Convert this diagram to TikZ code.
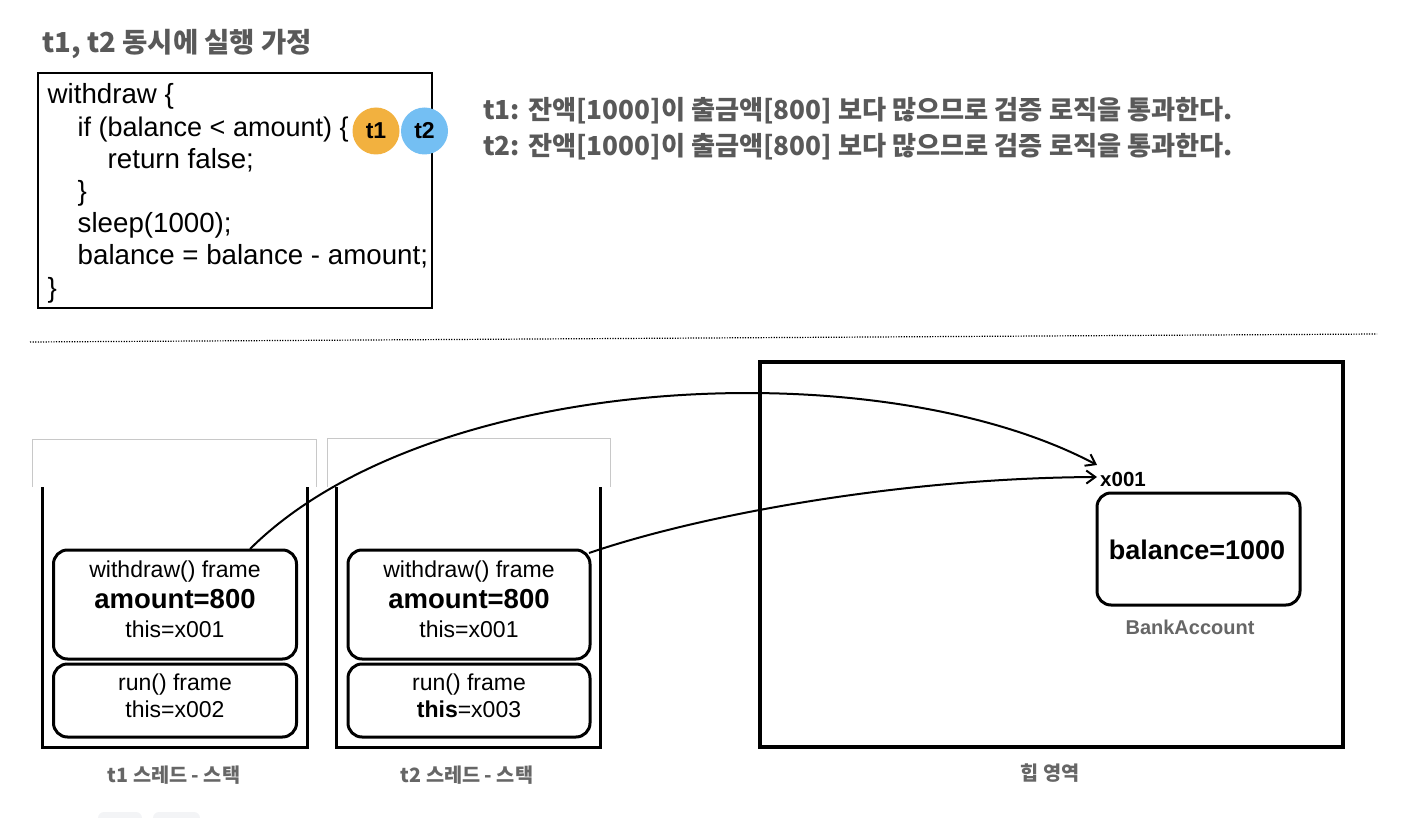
\documentclass[tikz,border=0pt]{standalone}
\usepackage{fontspec}
\setmainfont{Liberation Sans}
\newfontfamily\kr{Noto Sans CJK KR}
\usetikzlibrary{arrows.meta}
\definecolor{txtgray}{HTML}{595959}
\definecolor{lblgray}{HTML}{666666}
\definecolor{stackgray}{HTML}{C8C8C8}
\definecolor{orangec}{HTML}{F2B13F}
\definecolor{bluec}{HTML}{74BFF3}
\definecolor{faint}{HTML}{F3F4F6}
\begin{document}
\begin{tikzpicture}[x=1pt,y=-1pt,
  codetxt/.style={anchor=base west, inner sep=0, font=\fontsize{27.7}{32}\selectfont},
  frametxt/.style={anchor=base, inner sep=0, font=\fontsize{23}{26}\selectfont},
  bigtxt/.style={anchor=base, inner sep=0, font=\bfseries\fontsize{27.5}{32}\selectfont},
  krlabel/.style={anchor=base, inner sep=0, text=lblgray, font=\kr\bfseries\fontsize{19.7}{24}\selectfont},
  krtext/.style={anchor=base west, inner sep=0, text=txtgray, font=\kr\bfseries\fontsize{26.2}{30}\selectfont},
  framebox/.style={draw, line width=3, rounded corners=14, minimum width=243, inner sep=0},
  thread/.style={circle, minimum size=47, inner sep=0, font=\bfseries\fontsize{23}{26}\selectfont},
  wall/.style={line width=3, line join=miter},
  topbox/.style={draw=stackgray, line width=1},
  ptr/.style={line width=2, -{Straight Barb[length=9pt,width=13pt,line width=2pt]}}
]
\useasboundingbox (0,0) rectangle (1410,818);

% title
\node[anchor=base west, inner sep=0, text=txtgray, font=\kr\bfseries\fontsize{27.5}{32}\selectfont] (title) at (42,53) {t1, t2 동시에 실행 가정};

% code box
\node[draw, line width=1.5, minimum width=394, minimum height=235, inner sep=0] (code) at (235,190.5) {};
\node[codetxt] (l1) at (47.5,104) {withdraw \{};
\node[codetxt, font=\fontsize{27}{32}\selectfont] (l2) at (77.5,136.2) {if (balance < amount) \{};
\node[codetxt] (l3) at (107.5,168.4) {return false;};
\node[codetxt] (l4) at (77.5,200.6) {\}};
\node[codetxt] (l5) at (77.5,232.8) {sleep(1000);};
\node[codetxt] (l6) at (77.5,265) {balance = balance - amount;};
\node[codetxt] (l7) at (47.5,297.2) {\}};

\node[thread, fill=orangec] (c1) at (376,131) {t1};
\node[thread, fill=bluec] (c2) at (424.5,131) {t2};

% right texts
\node[krtext] (r1) at (483,120) {t1: 잔액[1000]이 출금액[800] 보다 많으므로 검증 로직을 통과한다.};
\node[krtext] (r2) at (483,156) {t2: 잔액[1000]이 출금액[800] 보다 많으므로 검증 로직을 통과한다.};

% dotted separator
\draw[line width=1.2, dash pattern=on 1.2 off 1.4] (30,342) -- (1377,334);

% stack tops (light gray)
\draw[topbox] (32,487) -- (32,439) -- (316.5,439) -- (316.5,487);
\draw[topbox] (327,487) -- (327,438) -- (610,438) -- (610,487);

% stack walls
\draw[wall] (42,487) -- (42,747) -- (307,747) -- (307,487);
\draw[wall] (336,487) -- (336,747) -- (600,747) -- (600,487);

% t1 frames
\node[framebox, minimum height=109] (w1) at (175,604.5) {};
\node[frametxt] (w1a) at (175,577) {withdraw() frame};
\node[bigtxt] (w1b) at (175,608) {amount=800};
\node[frametxt] (w1c) at (175,637) {this=x001};
\node[framebox, minimum height=73] (f1) at (175,700.5) {};
\node[frametxt] (f1a) at (175,690) {run() frame};
\node[frametxt] (f1b) at (175,717) {this=x002};

% t2 frames
\node[framebox, minimum height=109, minimum width=242] (w2) at (469,604.5) {};
\node[frametxt] (w2a) at (469,577) {withdraw() frame};
\node[bigtxt] (w2b) at (469,608) {amount=800};
\node[frametxt] (w2c) at (469,637) {this=x001};
\node[framebox, minimum height=73, minimum width=242] (f2) at (469,700.5) {};
\node[frametxt] (f2a) at (469,690) {run() frame};
\node[frametxt] (f2b) at (469,717) {{\bfseries this}=x003};

\node[krlabel] (s1) at (174,782) {t1 스레드 - 스택};
\node[krlabel] (s2) at (467,782) {t2 스레드 - 스택};

% heap
\node[draw, line width=4, minimum width=583, minimum height=385, inner sep=0] (heap) at (1051.5,554.5) {};
\node[krlabel] (hl) at (1050,780) {힙 영역};

\node[framebox, minimum width=203, minimum height=112] (bank) at (1198.5,549) {};
\node[bigtxt, font=\bfseries\fontsize{27}{32}\selectfont] (bal) at (1197,559) {balance=1000};
\node[anchor=base, inner sep=0, text=lblgray, font=\bfseries\fontsize{20}{24}\selectfont] (bname) at (1190,634) {BankAccount};
\node[anchor=base west, inner sep=0, font=\bfseries\fontsize{20.5}{24}\selectfont] (addr) at (1100,486) {x001};

% faint boxes at bottom
\fill[faint, rounded corners=6] (98,812) rectangle (142,832);
\fill[faint, rounded corners=6] (153,812) rectangle (200,832);

% pointers
\coordinate (a1s) at (250,549);
\coordinate (a1e) at (1097,465);
\coordinate (a2s) at (589,553);
\coordinate (a2e) at (1097,477);
\draw[ptr] (a1s) .. controls (430,370) and (880,350) .. (a1e);
\draw[ptr] (a2s) .. controls (700,515) and (900,478) .. (a2e);
\end{tikzpicture}
\end{document}
